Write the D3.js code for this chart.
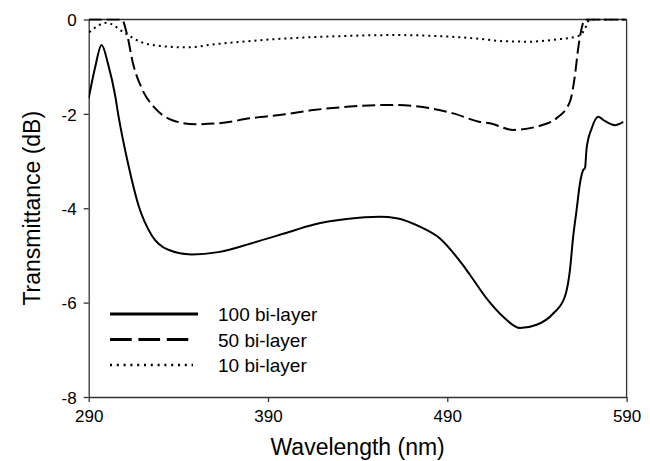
<!DOCTYPE html>
<html>
<head>
<meta charset="utf-8">
<script src="https://cdn.jsdelivr.net/npm/d3@7"></script>
<style>
    html, body { margin: 0; padding: 0; background: #fff; }
    text { font-family: "Liberation Sans", Arial, sans-serif; fill: #000; }
</style>
</head>
<body>
<div id="chart"></div>
<script>
// Wavelength (nm) / transmittance (dB)
var bi100 = [
    [290, -1.67], [293.5, -1.03], [297.2, -0.54], [300.9, -0.96], [304.7, -1.6],
    [306.5, -2.02], [312.1, -3.08], [317.7, -3.93], [325.1, -4.57], [334.4, -4.88],
    [347.4, -4.98], [362.3, -4.93], [380.9, -4.74], [399.5, -4.53], [415.2, -4.35],
    [433.9, -4.23], [452.4, -4.18], [461.7, -4.21], [474.7, -4.39], [485.9, -4.64],
    [498, -5.17], [502.6, -5.41], [511.9, -5.91], [521.2, -6.30], [530.5, -6.54],
    [539.8, -6.47], [549.1, -6.23], [555.6, -5.87], [558.4, -5.31], [560.2, -4.60],
    [562.1, -4.04], [564, -3.47], [565.8, -3.19], [566.8, -3.15], [567.7, -2.73],
    [570.5, -2.31], [574.2, -2.06], [577, -2.13], [583.5, -2.24], [588.1, -2.17]
];
var bi50 = [
    [290, 0], [308.5, 0], [311.2, -0.29], [314.9, -0.96], [319.6, -1.46], [327, -1.88],
    [336.3, -2.13], [349.3, -2.22], [362.3, -2.20], [380.9, -2.09], [399.5, -2.01],
    [415.2, -1.92], [433.9, -1.85], [459.9, -1.81], [480.3, -1.88], [493.3, -1.99],
    [508.2, -2.17], [513.8, -2.20], [526.8, -2.34], [539.8, -2.27], [551, -2.09],
    [558.4, -1.74], [561.2, -1.18], [563, -0.61], [564.9, -0.19], [566.8, 0], [590, 0]
];
var bi10 = [
    [290.3, -0.27], [300, -0.07], [310.2, -0.29], [318.6, -0.47], [329.8, -0.56],
    [344.6, -0.59], [361.4, -0.52], [396.7, -0.41], [424.6, -0.36], [461.7, -0.33],
    [489.6, -0.36], [508.2, -0.41], [521.2, -0.46], [536.1, -0.47], [549.1, -0.43],
    [564, -0.34], [566.8, -0.19], [569.5, 0], [590, 0]
];
var xTicks = [290, 390, 490, 590];
var yTicks = [0, -2, -4, -6, -8];
var legendLabels = ['100 bi-layer', '50 bi-layer', '10 bi-layer'];

var width = 650,
    height = 461;
var plot = { left: 88.7, right: 626.6, top: 19.5, bottom: 397 };

var svg = d3.select('#chart').append('svg')
    .attr('width', width)
    .attr('height', height);

var x = d3.scaleLinear().domain([290, 590]).range([plot.left, plot.right]);
var y = d3.scaleLinear().domain([-8, 0]).range([plot.bottom, plot.top]);

svg.append('defs').append('clipPath')
    .attr('id', 'clip')
    .append('rect')
    .attr('x', plot.left)
    .attr('y', plot.top - 1)
    .attr('width', plot.right - plot.left)
    .attr('height', plot.bottom - plot.top + 1);

// Axes
var xAxis = svg.append('g')
    .attr('transform', 'translate(0,' + plot.bottom + ')')
    .call(d3.axisBottom(x).tickValues(xTicks).tickSize(5).tickSizeOuter(0).tickPadding(8));
var yAxis = svg.append('g')
    .attr('transform', 'translate(' + plot.left + ',0)')
    .call(d3.axisLeft(y).tickValues(yTicks).tickSize(5).tickSizeOuter(0).tickPadding(7)
        .tickFormat(function(d) { return d; }));

[xAxis, yAxis].forEach(function(a) {
    a.selectAll('path, line').attr('stroke', '#333').attr('stroke-width', 1.3);
    a.selectAll('text')
        .style('font-family', '"Liberation Sans", Arial, sans-serif')
        .style('font-size', '17px')
        .attr('fill', '#000');
});
xAxis.selectAll('text').attr('dy', '0.71em');
yAxis.selectAll('text').attr('dy', '0.36em');

// Top and right frame
svg.append('line')
    .attr('x1', plot.left).attr('x2', plot.right)
    .attr('y1', plot.top).attr('y2', plot.top)
    .attr('stroke', '#333').attr('stroke-width', 1.3);
svg.append('line')
    .attr('x1', plot.right).attr('x2', plot.right)
    .attr('y1', plot.top).attr('y2', plot.bottom)
    .attr('stroke', '#333').attr('stroke-width', 1.3);

// Curves
var line = d3.line()
    .x(function(d) { return x(d[0]); })
    .y(function(d) { return y(d[1]); })
    .curve(d3.curveMonotoneX);

var series = [
    { data: bi100, dash: null },
    { data: bi50, dash: '13,5' },
    { data: bi10, dash: '2,4' }
];
var curves = svg.append('g').attr('clip-path', 'url(#clip)');
series.forEach(function(s) {
    curves.append('path')
        .attr('d', line(s.data))
        .attr('fill', 'none')
        .attr('stroke', '#000')
        .attr('stroke-width', 2)
        .attr('stroke-dasharray', s.dash);
});

// Legend
var legendDash = [null, '21.7,6.7', '2,4.8'];
var legendEnd = [198, 188.3, 193];
var legend = svg.append('g');
legendLabels.forEach(function(label, i) {
    var ly = 314 + i * 25.5;
    legend.append('line')
        .attr('x1', 110).attr('x2', legendEnd[i])
        .attr('y1', ly).attr('y2', ly)
        .attr('stroke', '#000')
        .attr('stroke-width', i === 2 ? 2.4 : 3)
        .attr('stroke-dasharray', legendDash[i]);
    legend.append('text')
        .attr('x', 218)
        .attr('y', ly + 2)
        .attr('dominant-baseline', 'middle')
        .style('font-size', '19px')
        .text(label);
});

// Axis titles
svg.append('text')
    .attr('x', (plot.left + plot.right) / 2)
    .attr('y', 455)
    .attr('text-anchor', 'middle')
    .style('font-size', '23px')
    .text('Wavelength (nm)');
svg.append('text')
    .attr('transform', 'translate(40,' + (plot.top + plot.bottom) / 2 + ') rotate(-90)')
    .attr('text-anchor', 'middle')
    .style('font-size', '23px')
    .text('Transmittance (dB)');
</script>
</body>
</html>
